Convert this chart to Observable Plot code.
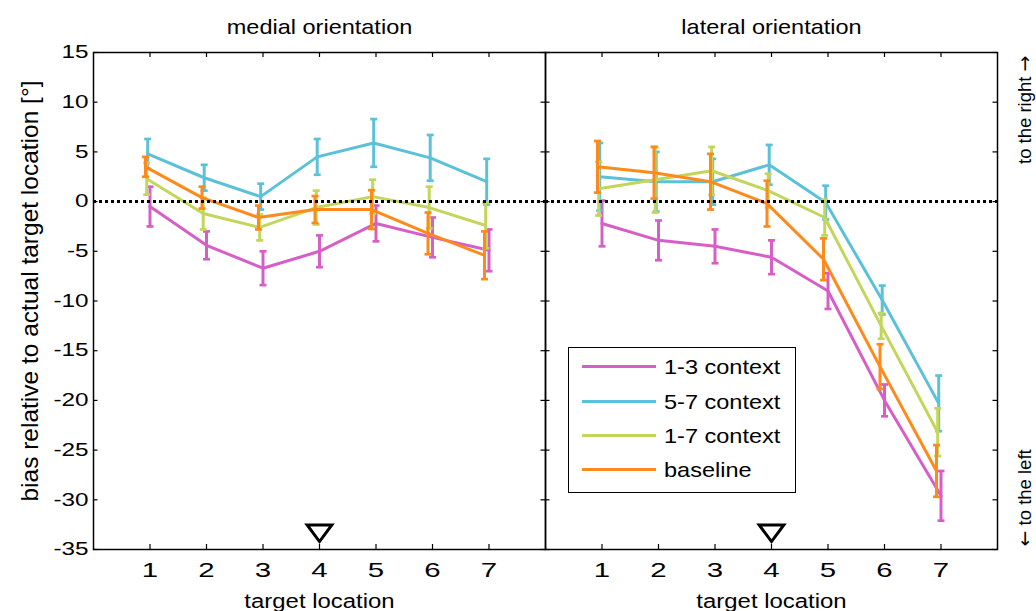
<!DOCTYPE html>
<html>
<head>
<meta charset="utf-8">
<script src="https://cdn.jsdelivr.net/npm/d3@7"></script>
<script src="https://cdn.jsdelivr.net/npm/@observablehq/plot@0.6"></script>
<style>
  body { margin: 0; background: #fff; }
  #chart { position: relative; width: 1036px; height: 611px; font-family: "Liberation Sans", Arial, sans-serif; }
  #chart svg { position: absolute; left: 0; top: 0; }
  .legend { position: absolute; left: 568px; top: 347px; width: 228px; height: 146px;
            border: 1.5px solid #000; background: #fff; box-sizing: border-box; }
  .legend .row { position: absolute; left: 0; height: 34.2px; display: flex; align-items: center; }
  .legend .swatch { margin-left: 13px; width: 74px; height: 3px; }
  .legend .name { margin-left: 8px; font-size: 21px; line-height: 1; display: inline-block;
                  transform: scaleX(1.12); transform-origin: left center; white-space: nowrap; color: #000; }
</style>
</head>
<body>
<div id="chart"></div>
<script>
// Panels, conditions and their colours
const panels = ["medial orientation", "lateral orientation"];
const conditions = ["1-3 context", "5-7 context", "1-7 context", "baseline"];
const colors = ["#d65fc7", "#5bc1d8", "#c3d65b", "#ff8a1c"];
const locations = [1, 2, 3, 4, 5, 6, 7];
const yTicks = [-35, -30, -25, -20, -15, -10, -5, 0, 5, 10, 15];
const refLocation = [4];

// Mean bias (°) and error per target location — medial orientation
const medial13 = [-0.5, -4.4, -6.7, -5.0, -2.2, -3.6, -4.9];
const medial13Err = [2.0, 1.4, 1.7, 1.6, 1.8, 2.0, 2.1];
const medial57 = [4.8, 2.4, 0.5, 4.5, 5.9, 4.4, 2.0];
const medial57Err = [1.5, 1.3, 1.3, 1.8, 2.4, 2.3, 2.3];
const medial17 = [2.3, -1.2, -2.6, -0.6, 0.5, -0.6, -2.4];
const medial17Err = [1.6, 1.6, 1.3, 1.7, 1.7, 2.1, 2.3];
const medialBase = [3.5, 0.4, -1.6, -0.8, -0.8, -3.2, -5.4];
const medialBaseErr = [1.0, 1.1, 1.2, 1.35, 1.95, 2.1, 2.4];

// Mean bias (°) and error per target location — lateral orientation
const lateral13 = [-2.2, -3.9, -4.5, -5.6, -9.0, -20.0, -29.6];
const lateral13Err = [2.3, 2.0, 1.7, 1.7, 1.8, 1.6, 2.5];
const lateral57 = [2.5, 2.0, 2.0, 3.7, -0.1, -9.9, -20.3];
const lateral57Err = [3.4, 3.0, 2.3, 2.0, 1.7, 1.45, 2.8];
const lateral17 = [1.3, 2.2, 3.1, 1.1, -1.6, -12.5, -23.2];
const lateral17Err = [2.7, 3.3, 2.4, 1.7, 1.8, 1.3, 2.4];
const lateralBase = [3.5, 2.9, 2.0, -0.2, -5.8, -16.6, -27.1];
const lateralBaseErr = [2.6, 2.6, 2.8, 2.3, 2.1, 2.25, 2.6];

const series = [
  [medial13, medial13Err, lateral13, lateral13Err],
  [medial57, medial57Err, lateral57, lateral57Err],
  [medial17, medial17Err, lateral17, lateral17Err],
  [medialBase, medialBaseErr, lateralBase, lateralBaseErr]
];

// Long table: one row per panel × condition × location
const rows = [];
series.forEach(([mm, me, lm, le], ci) => {
  locations.forEach((loc, i) => {
    rows.push({panel: panels[0], condition: conditions[ci], location: loc, mean: mm[i], err: me[i]});
    rows.push({panel: panels[1], condition: conditions[ci], location: loc, mean: lm[i], err: le[i]});
  });
});

// Layout
const W = 1036, H = 611;
const M = {top: 52, right: 39, bottom: 62, left: 92};
const facetW = (W - M.left - M.right) / 2;
const facetH = H - M.top - M.bottom;
const tickLen = 5;
const nudge = [0, -2.3, -3.3, -4.5];   // small horizontal offsets so error bars don't overlap

// Short horizontal cap for error bars
const capSymbol = {
  draw(ctx, size) { const r = Math.sqrt(size / Math.PI); ctx.moveTo(-r, 0); ctx.lineTo(r, 0); }
};
// Downward-pointing open triangle marking the reference location
const triangleDown = {
  draw(ctx, size) {
    const r = Math.sqrt(size / Math.PI);
    ctx.moveTo(-1.3 * r, -0.8 * r); ctx.lineTo(1.3 * r, -0.8 * r); ctx.lineTo(0, 0.95 * r); ctx.closePath();
  }
};

const seriesMarks = conditions.flatMap((c, ci) => {
  const data = rows.filter(d => d.condition === c);
  const common = {x: "location", fx: "panel", stroke: colors[ci], strokeWidth: 3, dx: nudge[ci]};
  return [
    Plot.ruleX(data, {...common, y1: d => d.mean - d.err, y2: d => d.mean + d.err}),
    Plot.dot(data, {...common, y: d => d.mean + d.err, symbol: capSymbol, r: 3.5, fill: "none", strokeWidth: 2.7}),
    Plot.dot(data, {...common, y: d => d.mean - d.err, symbol: capSymbol, r: 3.5, fill: "none", strokeWidth: 2.7}),
    Plot.line(data, {...common, y: "mean"})
  ];
});

const chart = Plot.plot({
  width: W, height: H,
  marginTop: M.top, marginRight: M.right, marginBottom: M.bottom, marginLeft: M.left,
  style: {fontFamily: '"Liberation Sans", Arial, sans-serif', background: "white", color: "black", overflow: "visible"},
  fx: {domain: panels, padding: 0, label: null},
  x: {domain: [0, 8]},
  y: {domain: [-35, 15]},
  marks: [
    ...seriesMarks,
    Plot.ruleY([0], {stroke: "black", strokeWidth: 3, strokeDasharray: "3,3"}),
    Plot.dot(refLocation, {x: d => d, frameAnchor: "bottom", dy: -17, symbol: triangleDown, r: 9.5,
                           fill: "white", stroke: "black", strokeWidth: 3}),
    // inward ticks on all four sides of each panel
    Plot.tickY(yTicks, {y: d => d, insetRight: facetW - tickLen, stroke: "black", strokeWidth: 1.2}),
    Plot.tickY(yTicks, {y: d => d, insetLeft: facetW - tickLen, stroke: "black", strokeWidth: 1.2}),
    Plot.tickX(locations, {x: d => d, insetTop: facetH - tickLen, stroke: "black", strokeWidth: 1.2}),
    Plot.tickX(locations, {x: d => d, insetBottom: facetH - tickLen, stroke: "black", strokeWidth: 1.2}),
    Plot.frame({stroke: "black", strokeWidth: 1.5}),
    Plot.axisFx({anchor: "top", tickSize: 0, tickPadding: 19, fontSize: 21, label: null}),
    Plot.axisX({anchor: "bottom", ticks: locations, tickSize: 0, tickPadding: 13, fontSize: 21,
                tickFormat: d => String(d), label: null}),
    Plot.axisY({anchor: "left", ticks: yTicks, tickSize: 0, tickPadding: 5, fontSize: 18,
                tickFormat: d => String(d), label: null}),
    Plot.text(["target location"], {text: d => d, frameAnchor: "bottom", lineAnchor: "bottom", dy: 58,
                                    fontSize: 21, ariaDescription: "x-label"}),
    Plot.text([{p: panels[0], t: "bias relative to actual target location [°]"}],
              {fx: "p", text: "t", frameAnchor: "left", rotate: -90, textAnchor: "middle", lineAnchor: "middle",
               dx: -63, dy: -10, fontSize: 24.5, ariaDescription: "y-label"}),
    Plot.text([{p: panels[1], t: "to the right →"}],
              {fx: "p", text: "t", frameAnchor: "top-right", rotate: -90, textAnchor: "end", lineAnchor: "middle",
               dx: 28, dy: 3, fontSize: 18.5, fill: "black", ariaDescription: "direction-label"}),
    Plot.text([{p: panels[1], t: "← to the left"}],
              {fx: "p", text: "t", frameAnchor: "bottom-right", rotate: -90, textAnchor: "start", lineAnchor: "middle",
               dx: 28, dy: -3, fontSize: 18.5, fill: "black", ariaDescription: "direction-label"})
  ]
});

// Text elements of a mark, found by its aria label or description
const labelled = name =>
  `g[aria-label="${name}"] text, g[aria-description="${name}"] text, text[aria-label="${name}"]`;

// Widen glyphs horizontally around each label's anchor point
function stretchText(selector, sx) {
  chart.querySelectorAll(selector).forEach(t => {
    let tr = t.getAttribute("transform") || "";
    const x = t.getAttribute("x");
    if (x && !/em$/.test(x)) { tr += ` translate(${x},0)`; t.removeAttribute("x"); }
    t.setAttribute("transform", `${tr} scale(${sx},1)`);
  });
}
stretchText(labelled("y-axis tick label"), 1.35);
stretchText(labelled("x-axis tick label"), 1.4);
stretchText(labelled("fx-axis tick label"), 1.12);
stretchText(labelled("x-label"), 1.14);

// Render the arrows in the direction labels with a font that has long arrow glyphs
const SVGNS = "http://www.w3.org/2000/svg";
chart.querySelectorAll(labelled("direction-label")).forEach(t => {
  const s = t.textContent;
  t.textContent = "";
  s.split(/([←→])/).filter(Boolean).forEach(part => {
    const ts = document.createElementNS(SVGNS, "tspan");
    ts.textContent = part;
    if (/[←→]/.test(part)) {
      ts.setAttribute("font-family", "DejaVu Sans");
      ts.setAttribute("font-size", "19");
    }
    t.appendChild(ts);
  });
});

const root = document.getElementById("chart");
root.appendChild(chart);

// Legend box
const legend = document.createElement("div");
legend.className = "legend";
conditions.forEach((c, i) => {
  const row = document.createElement("div");
  row.className = "row";
  row.style.top = (1.7 + i * 34.25) + "px";
  const sw = document.createElement("div");
  sw.className = "swatch";
  sw.style.background = colors[i];
  const name = document.createElement("span");
  name.className = "name";
  name.textContent = c;
  row.appendChild(sw);
  row.appendChild(name);
  legend.appendChild(row);
});
root.appendChild(legend);
</script>
</body>
</html>
